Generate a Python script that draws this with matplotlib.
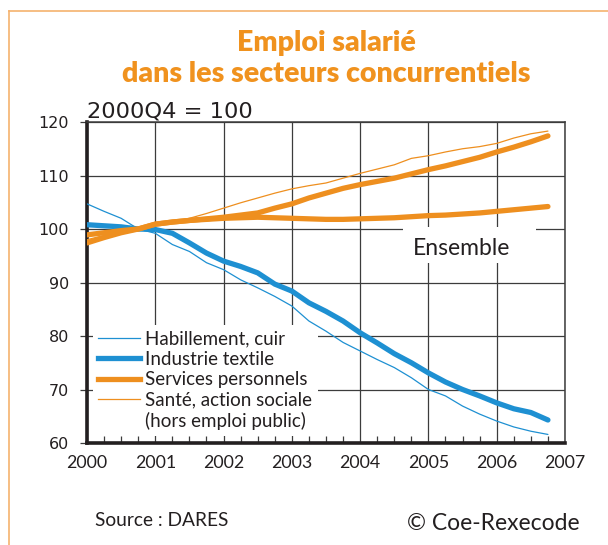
import matplotlib
matplotlib.use('Agg')
import matplotlib.pyplot as plt
import numpy as np
from matplotlib.lines import Line2D
from matplotlib.patches import Rectangle

# quarterly series, 2000Q1 .. 2006Q4 (2000Q4 = 100)
years = [2000, 2001, 2002, 2003, 2004, 2005, 2006]
quarters = [0, 1, 2, 3]

habillement = [104.7, 103.3, 102.0, 100.0,
               99.2, 97.1, 95.8, 93.7,
               92.4, 90.5, 89.0, 87.4,
               85.6, 82.8, 80.9, 78.8,
               77.2, 75.6, 74.1, 72.2,
               70.0, 68.8, 66.9, 65.4,
               64.1, 63.0, 62.2, 61.6]
textile = [100.8, 100.6, 100.4, 100.0,
           99.9, 99.2, 97.4, 95.5,
           94.0, 93.0, 91.8, 89.7,
           88.4, 86.2, 84.6, 82.8,
           80.6, 78.7, 76.7, 75.0,
           73.1, 71.4, 70.0, 68.8,
           67.5, 66.4, 65.7, 64.3]
services = [97.4, 98.4, 99.3, 100.0,
            100.9, 101.3, 101.6, 101.9,
            102.2, 102.6, 103.0, 103.9,
            104.7, 105.8, 106.7, 107.6,
            108.3, 108.9, 109.5, 110.3,
            111.1, 111.8, 112.6, 113.4,
            114.4, 115.3, 116.3, 117.4]
sante = [98.0, 98.8, 99.5, 100.0,
         100.8, 101.3, 102.0, 102.9,
         103.9, 104.9, 105.8, 106.7,
         107.5, 108.1, 108.6, 109.5,
         110.4, 111.2, 112.0, 113.2,
         113.7, 114.4, 115.0, 115.4,
         116.0, 117.0, 117.8, 118.3]
ensemble = [98.9, 99.3, 99.7, 100.0,
            100.9, 101.3, 101.6, 101.8,
            102.0, 102.1, 102.2, 102.1,
            102.0, 101.9, 101.8, 101.8,
            101.9, 102.0, 102.1, 102.3,
            102.5, 102.6, 102.8, 103.0,
            103.3, 103.6, 103.9, 104.2]

x = np.array([y + q / 4 for y in years for q in quarters])

BLUE = '#1E90D2'
ORANGE = '#EE8F1F'
TXT = '#231f20'
GRID = '#3c3c3c'

fig = plt.figure(figsize=(6.08, 5.45), dpi=100)
ax = fig.add_axes([87 / 608, 102 / 545, 478 / 608, 321 / 545])

ax.plot(x, habillement, color=BLUE, lw=0.9, zorder=3, solid_capstyle='round')
ax.plot(x, textile, color=BLUE, lw=3.8, zorder=3, solid_capstyle='round')
ax.plot(x, ensemble, color=ORANGE, lw=3.8, zorder=4, solid_capstyle='round')
ax.plot(x, services, color=ORANGE, lw=3.8, zorder=4, solid_capstyle='round')
ax.plot(x, sante, color=ORANGE, lw=0.9, zorder=4, solid_capstyle='round')

ax.set_xlim(2000, 2007)
ax.set_ylim(60, 120)
ax.set_xticks(range(2000, 2008))
ax.set_xticks(np.arange(2000, 2007.01, 0.25), minor=True)
ax.set_yticks(range(60, 121, 10))
ax.grid(True, which='major', color=GRID, lw=0.9)
ax.set_axisbelow(True)

ax.tick_params(axis='x', which='major', length=0, pad=9, labelsize=12.8, labelcolor=TXT)
ax.tick_params(axis='x', which='minor', direction='in', length=5, width=0.9, color=GRID)
ax.tick_params(axis='y', which='major', direction='out', length=5, width=0.9, color=GRID,
               pad=8, labelsize=11.5, labelcolor=TXT)
for lab in ax.get_xticklabels():
    lab.set_fontfamily('Lato')

for side in ['left', 'bottom']:
    ax.spines[side].set_linewidth(2.6)
    ax.spines[side].set_color('#231f20')
for side in ['top', 'right']:
    ax.spines[side].set_linewidth(1.1)
    ax.spines[side].set_color(GRID)

# Ensemble label with white box over the grid
ax.add_patch(Rectangle((0.661, 0.561), 0.278, 0.112, transform=ax.transAxes,
                       facecolor='white', edgecolor='none', zorder=1))
ax.text(0.783, 0.607, 'Ensemble', transform=ax.transAxes, ha='center', va='center',
        fontsize=16.5, family='Lato', color=TXT, zorder=5)

handles = [
    Line2D([], [], color=BLUE, lw=0.9),
    Line2D([], [], color=BLUE, lw=3.8),
    Line2D([], [], color=ORANGE, lw=3.8),
    Line2D([], [], color=ORANGE, lw=0.9),
    Line2D([], [], color='none'),
]
labels = ['Habillement, cuir', 'Industrie textile', 'Services personnels',
          'Santé, action sociale', '(hors emploi public)']
leg = ax.legend(handles, labels, loc='lower left', bbox_to_anchor=(0.0, 0.005),
                frameon=True, fancybox=False, framealpha=1, edgecolor='none',
                facecolor='white', prop={'family': 'Lato', 'size': 13.5},
                handlelength=2.2, handletextpad=0.3, labelspacing=0.18,
                borderpad=0.3, borderaxespad=0.3)
for t in leg.get_texts():
    t.set_color(TXT)
# below the data lines so the thin blue line stays visible at the box edge
leg.set_zorder(2.5)

fig.text(87 / 608, 1 - 111 / 545, '2000Q4 = 100', fontsize=16.2, color=TXT,
         family='DejaVu Sans', ha='left', va='center')

fig.text(326 / 608, 1 - 43 / 545, 'Emploi salarié', fontsize=20.5, fontweight='heavy',
         family='Lato', color='#F0921E', ha='center', va='center')
fig.text(326 / 608, 1 - 74 / 545, 'dans les secteurs concurrentiels', fontsize=20.5,
         fontweight='heavy', family='Lato', color='#F0921E', ha='center', va='center')

fig.text(95 / 608, 1 - 521 / 545, 'Source : DARES', fontsize=13.8, family='Lato',
         color=TXT, ha='left', va='center')
fig.text(580 / 608, 1 - 524 / 545, '© Coe-Rexecode', fontsize=16.5, family='Lato',
         color=TXT, ha='right', va='center')

# thin orange frame around the panel (top and left edges visible)
fig.add_artist(Line2D([9 / 608, 1.0], [1 - 11 / 545] * 2, color='#F5B36E', lw=1.2))
fig.add_artist(Line2D([9 / 608] * 2, [1 - 11 / 545, 0.0], color='#F5B36E', lw=1.2))

fig.savefig('out.png', dpi=100)
